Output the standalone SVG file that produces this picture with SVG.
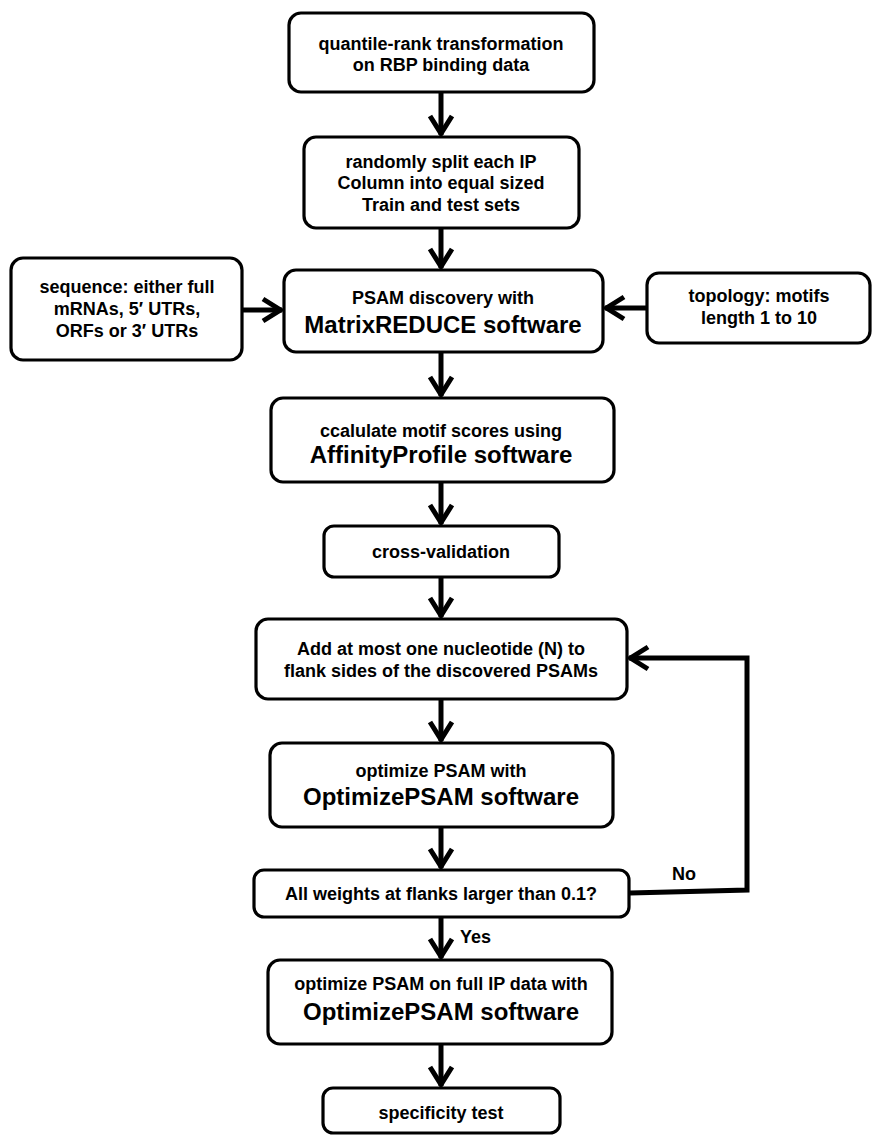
<svg xmlns="http://www.w3.org/2000/svg" width="873" height="1136" viewBox="0 0 873 1136">
<defs>
<style>
.box{fill:#fff;stroke:#000;stroke-width:3.2}
.t{font-family:"Liberation Sans",Arial,sans-serif;font-weight:bold;font-size:18px;fill:#000;text-anchor:middle}
.big{font-size:24px}
.lbl{font-family:"Liberation Sans",Arial,sans-serif;font-weight:bold;font-size:18px;fill:#000}
.c{fill:none;stroke:#000;stroke-width:5;stroke-linejoin:miter}
</style>
<marker id="ah" markerUnits="userSpaceOnUse" viewBox="-16 -16 22 32" markerWidth="22" markerHeight="32" refX="0" refY="0" orient="auto" overflow="visible">
<path d="M-19,-11 L-1.5,0 L-19,11" fill="none" stroke="#000" stroke-width="5" stroke-linecap="butt" stroke-linejoin="miter"/>
</marker>
</defs>
<rect width="873" height="1136" fill="#fff"/>
<g id="connectors">
<line class="c" x1="441" y1="93" x2="441" y2="135" marker-end="url(#ah)"/>
<line class="c" x1="441" y1="229" x2="441" y2="268" marker-end="url(#ah)"/>
<line class="c" x1="243" y1="310" x2="282" y2="310" marker-end="url(#ah)"/>
<line class="c" x1="646" y1="308" x2="605" y2="308" marker-end="url(#ah)"/>
<line class="c" x1="441" y1="353" x2="441" y2="396" marker-end="url(#ah)"/>
<line class="c" x1="441" y1="483" x2="441" y2="524" marker-end="url(#ah)"/>
<line class="c" x1="441" y1="578" x2="441" y2="617" marker-end="url(#ah)"/>
<line class="c" x1="441" y1="700" x2="441" y2="741" marker-end="url(#ah)"/>
<line class="c" x1="441" y1="828" x2="441" y2="868" marker-end="url(#ah)"/>
<line class="c" x1="441" y1="918" x2="441" y2="958" marker-end="url(#ah)"/>
<line class="c" x1="441" y1="1045" x2="441" y2="1086" marker-end="url(#ah)"/>
<polyline class="c" points="630,893 747,890 747,658 629,658" marker-end="url(#ah)"/>
<text class="lbl" x="460" y="943">Yes</text>
<text class="lbl" x="672" y="880">No</text>
</g>
<g id="n1"><rect class="box" x="289" y="13" width="305" height="79" rx="12"/>
<text class="t" x="441" y="50">quantile-rank transformation</text>
<text class="t" x="441" y="71">on RBP binding data</text></g>
<g id="n2"><rect class="box" x="304" y="137" width="275" height="91" rx="12"/>
<text class="t" x="441" y="168">randomly split each IP</text>
<text class="t" x="441" y="189">Column into equal sized</text>
<text class="t" x="441" y="211">Train and test sets</text></g>
<g id="n_seq"><rect class="box" x="11" y="258" width="231" height="102" rx="12"/>
<text class="t" x="127" y="293">sequence: either full</text>
<text class="t" x="127" y="315">mRNAs, 5′ UTRs,</text>
<text class="t" x="127" y="337">ORFs or 3′ UTRs</text></g>
<g id="n_psam"><rect class="box" x="284" y="270" width="319" height="82" rx="12"/>
<text class="t" x="443" y="304">PSAM discovery with</text>
<text class="t big" x="443" y="333">MatrixREDUCE software</text></g>
<g id="n_topo"><rect class="box" x="647" y="273" width="223" height="70" rx="12"/>
<text class="t" x="759" y="302">topology: motifs</text>
<text class="t" x="759" y="324">length 1 to 10</text></g>
<g id="n_aff"><rect class="box" x="271" y="398" width="343" height="84" rx="12"/>
<text class="t" x="441" y="437">ccalulate motif scores using</text>
<text class="t big" x="441" y="463">AffinityProfile software</text></g>
<g id="n_cv"><rect class="box" x="324" y="526" width="235" height="51" rx="10"/>
<text class="t" x="441" y="558">cross-validation</text></g>
<g id="n_add"><rect class="box" x="256" y="619" width="371" height="80" rx="12"/>
<text class="t" x="441" y="655">Add at most one nucleotide (N) to</text>
<text class="t" x="441" y="677">flank sides of the discovered PSAMs</text></g>
<g id="n_opt"><rect class="box" x="270" y="743" width="343" height="84" rx="12"/>
<text class="t" x="441" y="777">optimize PSAM with</text>
<text class="t big" x="441" y="805">OptimizePSAM software</text></g>
<g id="n_dec"><rect class="box" x="254" y="870" width="375" height="47" rx="10"/>
<text class="t" x="441" y="900">All weights at flanks larger than 0.1?</text></g>
<g id="n_full"><rect class="box" x="268" y="960" width="344" height="84" rx="12"/>
<text class="t" x="441" y="990">optimize PSAM on full IP data with</text>
<text class="t big" x="441" y="1020">OptimizePSAM software</text></g>
<g id="n_spec"><rect class="box" x="323" y="1088" width="237" height="45" rx="10"/>
<text class="t" x="441" y="1119">specificity test</text></g>
</svg>
